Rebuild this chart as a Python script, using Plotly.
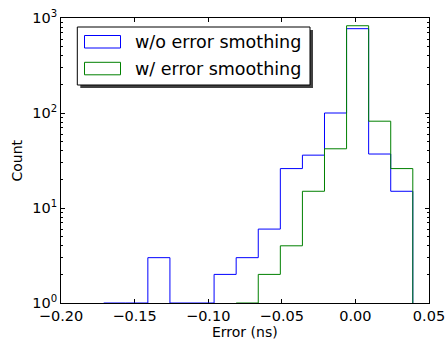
import plotly.graph_objects as go

# ---- data ----
blue_edges = [-0.171, -0.156, -0.141, -0.126, -0.111, -0.096, -0.081, -0.066,
              -0.051, -0.036, -0.021, -0.006, 0.009, 0.024, 0.039]
blue_counts = [0, 0, 3, 0, 0, 2, 3, 6, 26, 36, 100, 772, 37, 15]
green_edges = [-0.081, -0.066, -0.051, -0.036, -0.021, -0.006, 0.009, 0.024, 0.039]
green_counts = [0, 2, 4, 15, 42, 829, 82, 26]
series_names = ["w/o error smothing", "w/ error smoothing"]
series_colors = ["#0000ff", "#008000"]
x_ticks = [-0.20, -0.15, -0.10, -0.05, 0.00, 0.05]
y_tickvals = [1, 10, 100, 1000]
y_ticktext = ["10<sup>0</sup>", "10<sup>1</sup>", "10<sup>2</sup>", "10<sup>3</sup>"]

FLOOR = 1  # log-axis bottom: zero counts drop to the axis

W, H = 446, 339
ML, MR, MT, MB = 61, 17, 18, 36
PW, PH = W - ML - MR, H - MT - MB


def px(x):
    return (x - ML) / PW


def py(y):
    return (H - MB - y) / PH


def step_path(edges, counts):
    xs = [edges[0]]
    ys = [FLOOR]
    for e, c in zip(edges[:-1], counts):
        xs.append(e)
        ys.append(c if c > 0 else FLOOR)
    xs.append(edges[-1])
    ys.append(ys[-1])
    xs.append(edges[-1])
    ys.append(FLOOR)
    return xs, ys


FONT = "DejaVu Sans"
fig = go.Figure()
for edges, counts, name, color in [
    (blue_edges, blue_counts, series_names[0], series_colors[0]),
    (green_edges, green_counts, series_names[1], series_colors[1]),
]:
    xs, ys = step_path(edges, counts)
    fig.add_trace(go.Scatter(
        x=xs, y=ys, mode="lines", name=name, showlegend=False,
        line=dict(color=color, width=1, shape="hv"),
    ))

# ---- legend drawn in matplotlib style (shadow, box, patch icons, text) ----
shapes = []
annotations = []
# shadow
shapes.append(dict(type="rect", xref="paper", yref="paper", layer="above",
                   x0=px(80.3), x1=px(313), y0=py(88), y1=py(30),
                   fillcolor="#404040", line=dict(width=0)))
# box
shapes.append(dict(type="rect", xref="paper", yref="paper", layer="above",
                   x0=px(77.3), x1=px(310), y0=py(85), y1=py(27),
                   fillcolor="white", line=dict(color="black", width=1)))
for i, (name, color) in enumerate(zip(series_names, series_colors)):
    top = 35.5 + i * 26.8
    shapes.append(dict(type="rect", xref="paper", yref="paper", layer="above",
                       x0=px(84.5), x1=px(120.5), y0=py(top + 12.5), y1=py(top),
                       fillcolor="white", line=dict(color=color, width=1)))
    annotations.append(dict(text=name, xref="paper", yref="paper",
                            x=px(133), y=py(top + 6.5), xanchor="left", yanchor="middle",
                            showarrow=False, font=dict(family=FONT, size=17.5, color="black")))

# axis titles
annotations.append(dict(text="Error (ns)", xref="paper", yref="paper",
                        x=px(245), y=py(331.5), xanchor="center", yanchor="middle",
                        showarrow=False, font=dict(family=FONT, size=14, color="black")))
annotations.append(dict(text="Count", xref="paper", yref="paper", textangle=-90,
                        x=px(16), y=py(160.5), xanchor="center", yanchor="middle",
                        showarrow=False, font=dict(family=FONT, size=14, color="black")))

fig.update_layout(
    width=W, height=H,
    margin=dict(l=ML, r=MR, t=MT, b=MB),
    paper_bgcolor="white", plot_bgcolor="white",
    font=dict(family=FONT, size=14, color="black"),
    showlegend=False,
    shapes=shapes, annotations=annotations,
)
fig.update_xaxes(
    range=[-0.20, 0.05], tickvals=x_ticks, tickformat=".2f", automargin=False,
    showgrid=False, zeroline=False,
    showline=True, linecolor="black", linewidth=1, mirror="allticks",
    ticks="inside", ticklen=4, tickcolor="black", layer="below traces",
    tickfont=dict(size=14.5),
)
fig.update_yaxes(
    type="log", range=[0, 3], tickvals=y_tickvals, ticktext=y_ticktext, automargin=False,
    showgrid=False, zeroline=False,
    showline=True, linecolor="black", linewidth=1, mirror="allticks",
    ticks="inside", ticklen=4, tickcolor="black", layer="below traces",
    tickfont=dict(size=14.5),
    minor=dict(ticks="inside", ticklen=2, tickcolor="black", showgrid=False,
               tickmode="linear", tick0=0, dtick="D1"),
)

fig.write_html("out.html")
